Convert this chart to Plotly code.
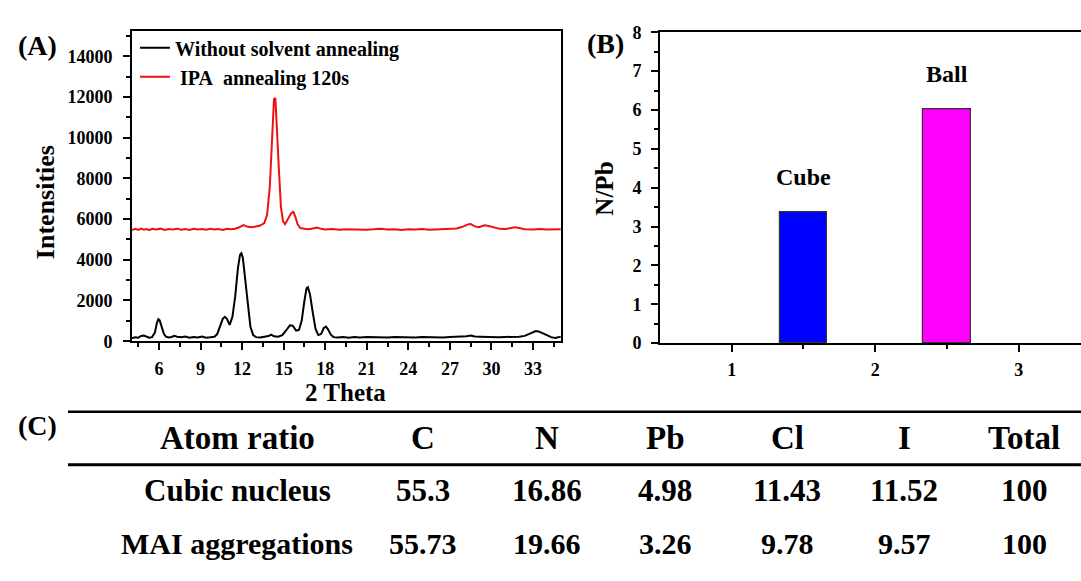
import plotly.graph_objects as go

W, H = 1081, 581

# ---------------- Data ----------------
theta_black = [4.05, 4.3, 4.5, 4.7, 4.9, 5.1, 5.3, 5.5, 5.7, 5.85, 5.95, 6.05, 6.2, 6.35, 6.5, 6.7, 6.9,
               7.1, 7.3, 7.6, 7.9, 8.2, 8.5, 8.8, 9.1, 9.4, 9.7, 10.0, 10.2, 10.4, 10.6, 10.75, 10.9,
               11.1, 11.3, 11.5, 11.7, 11.85, 11.95, 12.05, 12.2, 12.4, 12.6, 12.8, 13.0, 13.3, 13.6,
               13.9, 14.1, 14.3, 14.6, 14.9, 15.2, 15.45, 15.65, 15.9, 16.1, 16.3, 16.5, 16.65, 16.75,
               16.9, 17.1, 17.3, 17.5, 17.7, 17.9, 18.05, 18.2, 18.4, 18.6, 18.9, 19.3, 19.7, 20.1,
               20.5, 21.0, 21.5, 22.0, 22.5, 23.0, 23.5, 24.0, 24.5, 25.0, 25.5, 26.0, 26.5, 27.0,
               27.5, 27.9, 28.2, 28.5, 28.8, 29.2, 29.6, 30.0, 30.5, 31.0, 31.5, 32.0, 32.4, 32.7,
               33.0, 33.2, 33.4, 33.7, 34.0, 34.3, 34.6, 34.9, 35.0]
int_black = [160, 190, 170, 260, 280, 220, 170, 200, 420, 900, 1080, 1020, 700, 360, 220, 180, 210,
             260, 220, 190, 230, 170, 200, 180, 230, 170, 190, 220, 350, 700, 1100, 1200, 1100,
             800, 1200, 2200, 3600, 4250, 4320, 4100, 3200, 1800, 700, 300, 200, 180, 220,
             250, 320, 240, 220, 300, 550, 780, 760, 520, 550, 1000, 2000, 2600, 2650,
             2300, 1400, 600, 300, 350, 650, 720, 580, 320, 200, 180, 210, 170, 200,
             180, 210, 190, 200, 180, 210, 190, 200, 180, 210, 190, 200, 180, 210,
             220, 260, 240, 280, 230, 220, 200, 210, 190, 210, 200, 220, 260, 350,
             460, 500, 480, 400, 300, 200, 160, 210, 200]

theta_red = [4.05, 4.3, 4.5, 4.7, 4.9, 5.1, 5.3, 5.5, 5.8, 6.1, 6.4, 6.7, 7.0, 7.3, 7.6, 7.9, 8.2,
             8.5, 8.8, 9.1, 9.4, 9.7, 10.0, 10.3, 10.6, 10.9, 11.2, 11.5, 11.8, 12.1, 12.4, 12.7,
             13.0, 13.3, 13.6, 13.8, 14.0, 14.15, 14.3, 14.4, 14.5, 14.65, 14.8, 14.95, 15.1, 15.3,
             15.55, 15.7, 15.85, 16.0, 16.2, 16.5, 16.8, 17.1, 17.4, 17.7, 18.0, 18.5, 19.0, 19.5,
             20.0, 20.5, 21.0, 21.5, 22.0, 22.5, 23.0, 23.5, 24.0, 24.5, 25.0, 25.5, 26.0, 26.5,
             27.0, 27.5, 27.9, 28.3, 28.5, 28.8, 29.1, 29.5, 29.8, 30.2, 30.6, 31.0, 31.4, 31.7,
             32.0, 32.4, 33.0, 33.5, 34.0, 34.5, 35.0]
int_red = [5460, 5520, 5470, 5530, 5480, 5510, 5460, 5520, 5490, 5530, 5470, 5510, 5490, 5530, 5480,
           5510, 5470, 5520, 5490, 5510, 5480, 5520, 5490, 5510, 5470, 5520, 5500, 5530, 5600,
           5700, 5620, 5600, 5640, 5680, 5800, 6200, 7600, 10000, 11900, 11950, 10800, 8500,
           6600, 5900, 5750, 6000, 6300, 6350, 6100, 5750, 5560, 5520, 5500, 5540, 5580, 5520,
           5490, 5510, 5480, 5500, 5490, 5510, 5480, 5500, 5530, 5490, 5500, 5470, 5500, 5490,
           5510, 5480, 5500, 5490, 5510, 5540, 5620, 5740, 5760, 5640, 5600, 5700, 5660, 5580,
           5520, 5510, 5560, 5600, 5560, 5500, 5490, 5510, 5490, 5500, 5500]

series_names = ["Without solvent annealing", "\u00a0IPA\u00a0\u00a0annealing 120s"]

bar_x = [1.5, 2.5]
bar_ratio = [3.37, 6.02]
bar_labels = ["Cube", "Ball"]
bar_colors = ["#0000ff", "#ff00ff"]

table_header = ["Atom ratio", "C", "N", "Pb", "Cl", "I", "Total"]
row_cubic = ["Cubic nucleus", 55.3, 16.86, 4.98, 11.43, 11.52, 100]
row_mai = ["MAI aggregations", 55.73, 19.66, 3.26, 9.78, 9.57, 100]

# ---------------- Helpers ----------------
def X(px):
    return px / W

def Y(py):
    return 1 - py / H

FONT = "Times New Roman, Liberation Serif, serif"

fig = go.Figure()

fig.add_trace(go.Scatter(x=theta_black, y=int_black, mode="lines", name=series_names[0],
                         line=dict(color="black", width=2), xaxis="x", yaxis="y"))
fig.add_trace(go.Scatter(x=theta_red, y=int_red, mode="lines", name=series_names[1],
                         line=dict(color="#ee1111", width=2), xaxis="x", yaxis="y"))

fig.add_trace(go.Bar(x=bar_x, y=bar_ratio, width=0.33, marker=dict(color=bar_colors,
                     line=dict(color="#333333", width=1.2)), showlegend=False,
                     xaxis="x2", yaxis="y2"))

for bx, by, bl in zip(bar_x, bar_ratio, bar_labels):
    fig.add_annotation(x=bx, y=by, xref="x2", yref="y2", text=bl, showarrow=False,
                       yanchor="bottom", yshift=20,
                       font=dict(family=FONT, size=24, color="black", weight="bold"))

tickfont = dict(family=FONT, size=18, color="black", weight="bold")
axis_common = dict(showgrid=False, zeroline=False, showline=True, linecolor="black", linewidth=2,
                   ticks="outside", ticklen=7, tickwidth=1.5, tickcolor="black", tickfont=tickfont)

fig.update_layout(
    width=W, height=H, margin=dict(l=0, r=0, t=0, b=0),
    paper_bgcolor="white", plot_bgcolor="white",
    font=dict(family=FONT, color="black", weight="bold"),
    xaxis=dict(domain=[X(132), X(561)], range=[4.05, 35.02], tickvals=[6, 9, 12, 15, 18, 21, 24, 27, 30, 33],
               mirror=True, anchor="y",
               minor=dict(tickvals=[4.5, 7.5, 10.5, 13.5, 16.5, 19.5, 22.5, 25.5, 28.5, 31.5, 34.5],
                          ticklen=4, tickwidth=1.5, ticks="outside", tickcolor="black"),
               ticklabelstandoff=3, **axis_common),
    yaxis=dict(domain=[Y(343), Y(22)], range=[0, 15230], tickvals=list(range(0, 15000, 2000)),
               tickformat="d", mirror=True, anchor="x",
               minor=dict(tickvals=list(range(1000, 16000, 2000)), ticklen=4, tickwidth=1.5,
                          ticks="outside", tickcolor="black"),
               ticklabelstandoff=7, **axis_common),
    xaxis2=dict(domain=[X(660), 1.0], range=[0.5, 3.434], tickvals=[1, 2, 3], anchor="y2",
                mirror=True,
                minor=dict(tickvals=[1.5, 2.5], ticklen=4, tickwidth=1.5, ticks="outside", tickcolor="black"),
                ticklabelstandoff=2, **axis_common),
    yaxis2=dict(domain=[Y(345), Y(23)], range=[0, 8], tickvals=list(range(0, 9)), anchor="x2",
                minor=dict(tickvals=[i + 0.5 for i in range(8)], ticklen=4, tickwidth=1.5,
                           ticks="outside", tickcolor="black"),
                ticklabelstandoff=6, **axis_common),
    legend=dict(x=X(135), y=Y(19), xanchor="left", yanchor="top", bgcolor="rgba(0,0,0,0)",
                font=dict(family=FONT, size=20, color="black", weight="bold"),
                tracegroupgap=0, itemwidth=30),
    showlegend=True,
    bargap=0,
)

def label(px, py, text, size, angle=0):
    fig.add_annotation(x=X(px), y=Y(py), xref="paper", yref="paper", text=text, showarrow=False,
                       xanchor="center", yanchor="middle", textangle=angle,
                       font=dict(family=FONT, size=size, color="black", weight="bold"))

label(37, 37, "(A)", 28)
label(605, 35, "(B)", 28)
label(37, 430, "(C)", 28)
label(45, 199, "Intensities", 26, -90)
label(345, 396, "2 Theta", 25)
label(605, 185, "N/Pb", 25, -90)

# Table
fig.add_shape(type="line", xref="paper", yref="paper", x0=X(68), x1=1, y0=Y(416), y1=Y(416),
              line=dict(color="black", width=2.5))
fig.add_shape(type="line", xref="paper", yref="paper", x0=X(68), x1=1, y0=Y(471), y1=Y(471),
              line=dict(color="black", width=3))

col_x = [237, 423, 547, 665, 787, 904, 1024]
for rowvals, ry, fs in [(table_header, 443, 33), (row_cubic, 498, 31), (row_mai, 553, 30)]:
    for cx, v in zip(col_x, rowvals):
        label(cx, ry, str(v), fs)

fig.write_html("out.html")
